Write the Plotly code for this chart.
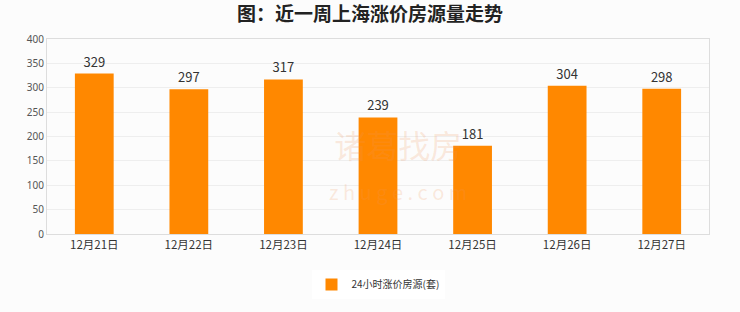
import plotly.graph_objects as go

categories = ["12月21日", "12月22日", "12月23日", "12月24日", "12月25日", "12月26日", "12月27日"]
values = [329, 297, 317, 239, 181, 304, 298]
series_name = "24小时涨价房源(套)"
title = "图：近一周上海涨价房源量走势"
watermark = "诸葛找房<br><span style='font-size:20px'>z h u g e . c o m</span>"

fig = go.Figure()
fig.add_trace(go.Bar(
    x=categories, y=values, name=series_name,
    marker=dict(color="#FF8800", line=dict(width=0)),
    text=values, textposition="outside", cliponaxis=False,
    textfont=dict(size=13, color="#333333", family="Noto Sans CJK SC"),
))
fig.add_annotation(
    text=watermark, xref="paper", yref="paper", x=0.53, y=0.36, yanchor="middle",
    showarrow=False, font=dict(size=32, color="rgba(240,150,90,0.2)", family="Noto Sans CJK SC"),
)
fig.update_layout(
    width=740, height=312,
    paper_bgcolor="#fcfcfc", plot_bgcolor="#fcfcfc",
    margin=dict(l=47, r=31, t=39, b=78, autoexpand=False),
    title=dict(text="<b>" + title + "</b>", x=0.5, xanchor="center", y=0.955, yanchor="middle",
               font=dict(size=19, color="#222222", family="Noto Sans CJK SC")),
    bargap=0.59,
    showlegend=True,
    legend=dict(orientation="h", x=0.5, xanchor="center", yref="container", y=0.135, yanchor="top",
                bgcolor="#ffffff", itemwidth=30,
                font=dict(size=10, color="#333333", family="Noto Sans CJK SC")),
    xaxis=dict(tickfont=dict(size=11.5, color="#333333", family="Noto Sans CJK SC"),
               showline=True, linecolor="#dddddd", mirror=True, ticks=""),
    yaxis=dict(range=[0, 400], dtick=50, tickfont=dict(size=10, color="#555555", family="Noto Sans"),
               gridcolor="#eeeeee", showline=True, linecolor="#dddddd", mirror=True,
               zeroline=False, ticks=""),
)
fig.write_html("out.html")
